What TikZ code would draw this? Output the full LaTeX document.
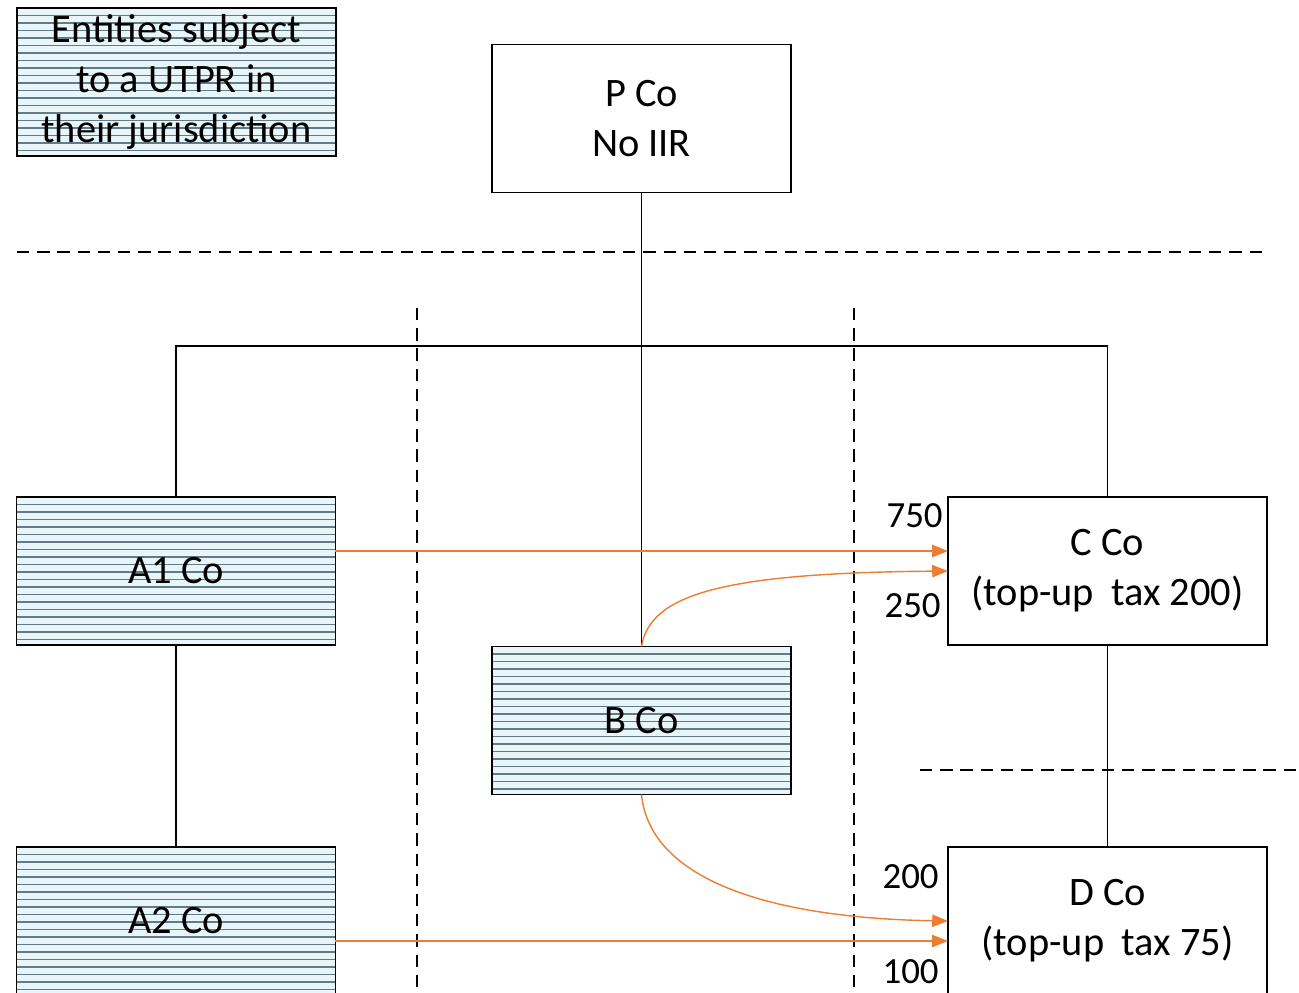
\documentclass[tikz,border=0pt]{standalone}
\usepackage{fontspec}
\setmainfont{Carlito}
\usetikzlibrary{arrows.meta}
\definecolor{flow}{RGB}{237,125,49}
\definecolor{hatchbg}{RGB}{232,246,250}
\definecolor{hatchln}{RGB}{100,122,132}
\tikzset{
entbox/.style = {rectangle, draw, line width=0.8pt, minimum width=#1, minimum height=2.96cm,
  inner sep=0pt, outer sep=0pt, align=center, font=\fontsize{23}{28.4}\selectfont},
entbox/.default = 6.38cm, % width of the wide boxes
utpr/.style = {entbox=#1, fill=hatchbg,
  path picture={\foreach \k in {0.15,0.3,...,3.0}
    {\draw[hatchln, line width=0.7pt] (path picture bounding box.north west) ++(0,-\k cm) -- ++(7cm,0);}}},
utpr/.default = 6.38cm,
flowarrow/.style = {draw=flow, line width=0.8pt, -{Triangle[length=9pt,width=7pt]}},
juris/.style = {dash pattern=on 7pt off 4.5pt, line width=0.8pt},
amount/.style = {anchor=east, inner sep=0pt, font=\fontsize{21}{24}\selectfont}
}
\begin{document}
\begin{tikzpicture}[x=0.02cm, y=-0.02cm]
\useasboundingbox (0,0) rectangle (1299,992);

% jurisdiction borders
\draw[juris] (17,252) -- (1267,252);
\draw[juris] (417,308) -- (417,992);
\draw[juris] (854,308) -- (854,992);
\draw[juris] (920,770) -- (1299,770);

% entities
\node [utpr] (key) at (176.5,82) {Entities subject\\to a UTPR in\\their jurisdiction};
\node [entbox=5.98cm] (P) at (641.5,118.5) {P Co\\No IIR};
\node [utpr] (A1) at (176,571) {A1 Co};
\node [utpr] (A2) at (176,921) {A2 Co};
\node [utpr=5.98cm] (B) at (641.5,720.5) {B Co};
\node [entbox] (C) at (1107.5,571) {C Co\\(top-up\hspace{0.2em} tax 200)};
\node [entbox] (D) at (1107.5,921) {D Co\\(top-up\hspace{0.2em} tax 75)};

% ownership
\coordinate (bus) at (641.5,346);
\draw[line width=0.8pt] (P.south) -- (B.north);
\draw[line width=0.8pt] (A1.north) |- (bus) -| (C.north);
\draw[line width=0.8pt] (A1.south) -- (A2.north);
\draw[line width=0.8pt] (C.south) -- (D.north);

% payments
\draw[flowarrow] ([yshift=0.4cm]A1.east) -- ([yshift=0.4cm]C.west);
\draw[flowarrow] (B.north) .. controls (650,595) and (720,573) .. (C.west);
\draw[flowarrow] (B.south) .. controls (650,880) and (770,918) .. (D.west);
\draw[flowarrow] ([yshift=-0.4cm]A2.east) -- ([yshift=-0.4cm]D.west);

\node [amount] (n750) at (943,516) {750};
\node [amount] (n250) at (941,606) {250};
\node [amount] (n200) at (939,877) {200};
\node [amount] (n100) at (939,972) {100};
\end{tikzpicture}
\end{document}
